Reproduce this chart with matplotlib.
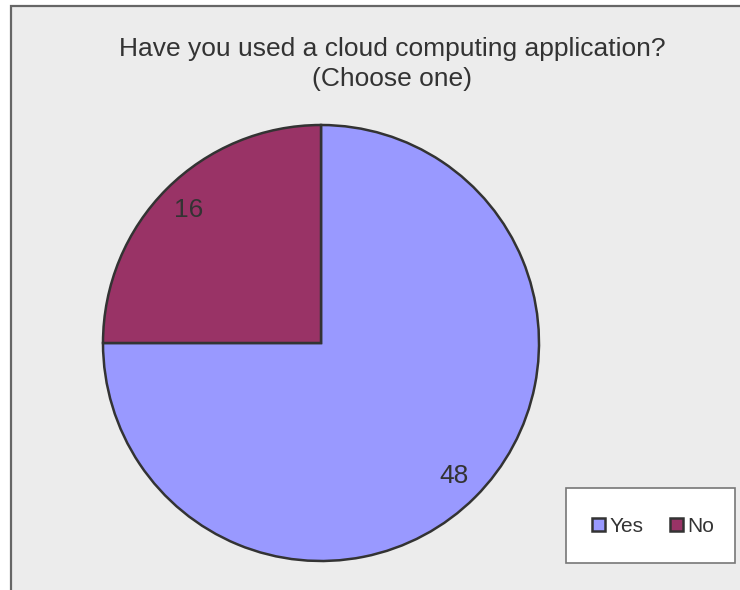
import matplotlib.pyplot as plt
from matplotlib.patches import Rectangle, Patch

# Survey answers
respostas = ['Yes', 'No']
contagens = [48, 16]
cores = ['#9999FF', '#993366']

plt.rcParams['font.family'] = ['Liberation Sans', 'DejaVu Sans']

W, H = 740, 590
fig = plt.figure(figsize=(W / 100, H / 100), dpi=100)
fig.patch.set_facecolor('white')

# Chart area with grey fill (runs off the right and bottom edges)
fig.patches.append(Rectangle((11 / W, -0.05), 1.1, 1 - 6 / H + 0.05,
                             transform=fig.transFigure, facecolor='#ECECEC',
                             edgecolor='#666666', linewidth=1.6, zorder=-5))

fig.text(392 / W, 1 - 49 / H, 'Have you used a cloud computing application?',
         ha='center', va='center', fontsize=19, color='#333333')
fig.text(392 / W, 1 - 79 / H, '(Choose one)',
         ha='center', va='center', fontsize=19, color='#333333')

# Pie axes centred on (321, 343) px
cx, cy, r = 321, 343, 220
ax = fig.add_axes([(cx - r) / W, (H - cy - r) / H, 2 * r / W, 2 * r / H])

wedges, textos = ax.pie(contagens, colors=cores, startangle=90, counterclock=False,
                        radius=218 / 220, labels=[str(c) for c in contagens],
                        labeldistance=0.86,
                        wedgeprops=dict(edgecolor='#333333', linewidth=1.8))
ax.set_xlim(-1, 1)
ax.set_ylim(-1, 1)
ax.set_aspect('equal')
ax.axis('off')
for t in textos:
    t.set_ha('center')
    t.set_va('center')
    t.set_fontsize(19)
    t.set_color('#333333')

# Legend box
fig.patches.append(Rectangle((566 / W, 1 - 563 / H), 169 / W, 75 / H,
                             transform=fig.transFigure, facecolor='white',
                             edgecolor='#777777', linewidth=1.2, zorder=1))
handles = [Patch(facecolor=c, edgecolor='#333333', linewidth=1.8) for c in cores]
fig.legend(handles, respostas, loc='center', ncol=2, frameon=False,
           bbox_to_anchor=(653 / W, 1 - 526 / H), fontsize=15,
           handlelength=0.6, handleheight=0.6, handletextpad=0.2,
           columnspacing=1.3, labelcolor='#333333')

fig.savefig('out.png', dpi=100)
